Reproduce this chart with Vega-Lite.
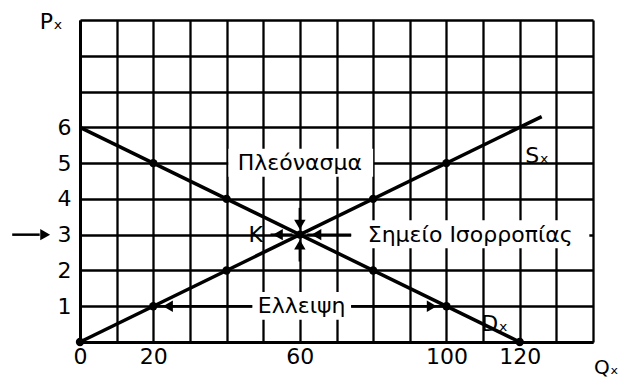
{
  "$schema": "https://vega.github.io/schema/vega-lite/v6.json",
  "width": 513,
  "height": 322,
  "autosize": "none",
  "padding": {"left": 80, "top": 20, "right": 31, "bottom": 40},
  "background": "white",
  "config": {"view": {"stroke": null}, "font": "DejaVu Sans"},
  "datasets": {
    "curves": [
      {"curve": "D", "q": 0, "p": 6},
      {"curve": "D", "q": 120, "p": 0},
      {"curve": "S", "q": 0, "p": 0},
      {"curve": "S", "q": 126, "p": 6.3}
    ],
    "dots": [
      {"q": 0, "p": 0}, {"q": 20, "p": 1}, {"q": 40, "p": 2}, {"q": 60, "p": 3}, {"q": 80, "p": 4}, {"q": 100, "p": 5},
      {"q": 20, "p": 5}, {"q": 40, "p": 4}, {"q": 80, "p": 2}, {"q": 100, "p": 1}, {"q": 120, "p": 0}
    ],
    "boxes": [
      {"q": 40.5, "q2": 80, "p": 4.62, "p2": 5.4},
      {"q": 47, "q2": 74, "p": 0.62, "p2": 1.4},
      {"q": 74, "q2": 139, "p": 2.62, "p2": 3.4}
    ],
    "bigLabels": [
      {"t": "Πλεόνασμα", "q": 60, "p": 5},
      {"t": "Ελλειψη", "q": 60.5, "p": 1},
      {"t": "Σημείο Ισορροπίας", "q": 106.5, "p": 3}
    ],
    "smallLabels": [
      {"t": "Sₓ", "q": 121.5, "p": 5.2},
      {"t": "Dₓ", "q": 109.5, "p": 0.5},
      {"t": "Pₓ", "q": -11, "p": 8.95},
      {"t": "K", "q": 46, "p": 3}
    ],
    "edgeLabels": [
      {"t": "Qₓ", "q": 140.3, "p": -0.72}
    ],
    "segs": [
      {"q": -18.5, "q2": -11, "p": 3, "p2": 3},
      {"q": 60, "q2": 60, "p": 3.75, "p2": 3.3},
      {"q": 60, "q2": 60, "p": 2.25, "p2": 2.7},
      {"q": 52, "q2": 58, "p": 3, "p2": 3},
      {"q": 62, "q2": 74, "p": 3, "p2": 3},
      {"q": 20, "q2": 47, "p": 1, "p2": 1},
      {"q": 74, "q2": 100, "p": 1, "p2": 1}
    ],
    "heads": [
      {"q": -9.5, "p": 3, "dir": "right"},
      {"q": 60, "p": 3.28, "dir": "down"},
      {"q": 60, "p": 2.72, "dir": "up"},
      {"q": 64.5, "p": 3, "dir": "left"},
      {"q": 24, "p": 1, "dir": "left"},
      {"q": 96, "p": 1, "dir": "right"},
      {"q": 54, "p": 3, "dir": "left"}
    ]
  },
  "encoding": {
    "x": {"field": "q", "type": "quantitative"},
    "y": {"field": "p", "type": "quantitative"}
  },
  "layer": [
    {
      "data": {"name": "curves"},
      "mark": {"type": "line", "color": "black", "strokeWidth": 3.5},
      "encoding": {
        "x": {
          "field": "q", "type": "quantitative",
          "scale": {"domain": [0, 140], "nice": false},
          "axis": {
            "title": null,
            "values": [0, 10, 20, 30, 40, 50, 60, 70, 80, 90, 100, 110, 120, 130, 140],
            "tickCount": 30,
            "format": "d",
            "labelExpr": "(datum.value == 0 || datum.value == 20 || datum.value == 60 || datum.value == 100 || datum.value == 120) ? datum.label : ''",
            "labelFlush": false,
            "labelOverlap": false,
            "labelFontSize": 22,
            "labelColor": "black",
            "labelPadding": 4,
            "grid": true, "gridColor": "black", "gridWidth": 2.3, "gridOpacity": 1,
            "domainColor": "black", "domainWidth": 3,
            "ticks": false
          }
        },
        "y": {
          "field": "p", "type": "quantitative",
          "scale": {"domain": [0, 9], "nice": false},
          "axis": {
            "title": null,
            "values": [0, 1, 2, 3, 4, 5, 6, 7, 8, 9],
            "tickCount": 20,
            "format": "d",
            "labelExpr": "datum.value >= 1 && datum.value <= 6 ? datum.label : ''",
            "labelOverlap": false,
            "labelFontSize": 22,
            "labelColor": "black",
            "labelPadding": 9,
            "grid": true, "gridColor": "black", "gridWidth": 2.3, "gridOpacity": 1,
            "domainColor": "black", "domainWidth": 3,
            "ticks": false
          }
        },
        "detail": {"field": "curve"}
      }
    },
    {
      "data": {"name": "boxes"},
      "mark": {"type": "rect", "color": "white"},
      "encoding": {
        "x": {"field": "q", "type": "quantitative"},
        "x2": {"field": "q2"},
        "y": {"field": "p", "type": "quantitative"},
        "y2": {"field": "p2"}
      }
    },
    {
      "data": {"name": "segs"},
      "mark": {"type": "rule", "color": "black", "strokeWidth": 2.5, "clip": false},
      "encoding": {
        "x": {"field": "q", "type": "quantitative"},
        "x2": {"field": "q2"},
        "y": {"field": "p", "type": "quantitative"},
        "y2": {"field": "p2"}
      }
    },
    {
      "data": {"name": "heads"},
      "mark": {"type": "point", "filled": true, "color": "black", "size": 130, "opacity": 1},
      "encoding": {
        "shape": {
          "field": "dir", "type": "nominal", "legend": null,
          "scale": {"domain": ["left", "right", "up", "down"], "range": ["triangle-left", "triangle-right", "triangle-up", "triangle-down"]}
        }
      }
    },
    {
      "data": {"name": "dots"},
      "mark": {"type": "circle", "color": "black", "size": 70, "opacity": 1}
    },
    {
      "data": {"name": "bigLabels"},
      "mark": {"type": "text", "fontSize": 22, "color": "black", "align": "center", "baseline": "middle"},
      "encoding": {"text": {"field": "t"}}
    },
    {
      "data": {"name": "smallLabels"},
      "mark": {"type": "text", "fontSize": 22, "color": "black", "align": "left", "baseline": "middle"},
      "encoding": {"text": {"field": "t"}}
    },
    {
      "data": {"name": "edgeLabels"},
      "mark": {"type": "text", "fontSize": 20, "color": "black", "align": "left", "baseline": "middle"},
      "encoding": {"text": {"field": "t"}}
    }
  ]
}
